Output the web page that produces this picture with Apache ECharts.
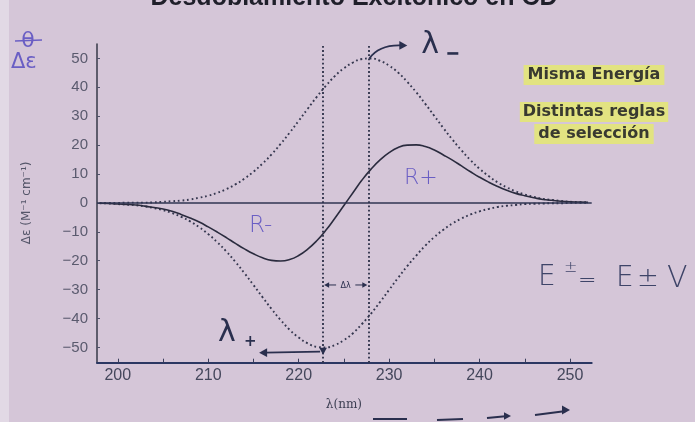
<!DOCTYPE html>
<html>
<head>
<meta charset="utf-8">
<script src="https://cdn.jsdelivr.net/npm/echarts@6/dist/echarts.min.js"></script>
<style>
  html, body { margin: 0; padding: 0; background: #d5c6d8; }
  #chart { width: 695px; height: 422px; }
</style>
</head>
<body>
<div id="chart"></div>
<script>
// Wavelength grid (nm)
const wavelengths = [198,199,200,201,202,203,204,205,206,207,208,209,210,211,212,213,214,215,216,217,218,219,220,221,222,223,224,225,226,227,228,229,230,231,232,233,234,235,236,237,238,239,240,241,242,243,244,245,246,247,248,249,250,251,252];

// Absorption-like band of the λ- exciton component (dotted, positive)
const bandLambdaMinus = [0,0,0,0.1,0.1,0.1,0.2,0.4,0.6,0.8,1.2,1.8,2.5,3.5,4.8,6.4,8.4,10.8,13.6,16.8,20.4,24.3,28.4,32.6,36.7,40.5,43.9,46.6,48.6,49.8,50.0,49.2,47.5,45.1,41.9,38.3,34.3,30.1,25.9,21.9,18.2,14.8,11.8,9.3,7.1,5.4,4.0,2.9,2.1,1.4,1.0,0.7,0.4,0.3,0.2];

// Band of the λ+ exciton component (dotted, negative)
const bandLambdaPlus = [-0.1,-0.2,-0.4,-0.6,-0.8,-1.2,-1.8,-2.5,-3.5,-4.8,-6.4,-8.4,-10.8,-13.6,-16.8,-20.4,-24.3,-28.4,-32.6,-36.7,-40.5,-43.9,-46.6,-48.6,-49.8,-50.0,-49.2,-47.5,-45.1,-41.9,-38.3,-34.3,-30.1,-25.9,-21.9,-18.2,-14.8,-11.8,-9.3,-7.1,-5.4,-4.0,-2.9,-2.1,-1.4,-1.0,-0.7,-0.4,-0.3,-0.2,-0.1,-0.1,0,0,0];

// Observed CD couplet (solid): R- branch then R+ branch
const cdCouplet = [-0.1,-0.2,-0.4,-0.5,-0.7,-1.1,-1.6,-2.1,-2.9,-4.0,-5.2,-6.6,-8.3,-10.1,-12.0,-14.0,-15.9,-17.6,-19.0,-19.9,-20.1,-19.6,-18.2,-16.0,-13.1,-9.5,-5.3,-0.9,3.5,7.9,11.7,14.9,17.4,19.2,20.0,20.1,19.5,18.3,16.6,14.8,12.8,10.8,8.9,7.2,5.7,4.4,3.3,2.5,1.8,1.2,0.9,0.6,0.4,0.3,0.2];

// Band positions of the two exciton components (nm)
const lambdaPlus = 222.7;
const lambdaMinus = 227.7;

// Axis ranges and tick labels
const xRange = [197.7, 252.4];
const yRange = [-55.3, 55];
const xTickLabels = [200, 210, 220, 230, 240, 250];
const yTickLabels = [-50, -40, -30, -20, -10, 0, 10, 20, 30, 40, 50];

const pairs = ys => wavelengths.map((x, i) => [x, ys[i]]);

const INK = '#2a2f4e';
const DOT = '#35374f';
const PEN = '#6a5ec4';

const chart = echarts.init(document.getElementById('chart'), null, { renderer: 'canvas' });

// plot frame: x 97..591.7 px, y 44..362.7 px
const frame = { left: 97, top: 44, width: 494.7, height: 318.7 };
const pxPerNm = frame.width / (xRange[1] - xRange[0]);
const pxPerUnit = frame.height / (yRange[1] - yRange[0]);
// tick/label grid covering the labelled range only, on the same scale
const tickGrid = {
  left: frame.left + (xTickLabels[0] - xRange[0]) * pxPerNm,
  top: frame.top + (yRange[1] - yTickLabels[yTickLabels.length - 1]) * pxPerUnit,
  width: (xTickLabels[xTickLabels.length - 1] - xTickLabels[0]) * pxPerNm,
  height: (yTickLabels[yTickLabels.length - 1] - yTickLabels[0]) * pxPerUnit
};
const xOffset = (frame.top + frame.height) - (tickGrid.top + tickGrid.height);
const yOffset = tickGrid.left - frame.left;

chart.setOption({
  animation: false,
  backgroundColor: '#d5c6d8',
  grid: [
    { left: frame.left, top: frame.top, width: frame.width, height: frame.height },
    { left: tickGrid.left, top: tickGrid.top, width: tickGrid.width, height: tickGrid.height }
  ],
  xAxis: [
    {
      gridIndex: 0, type: 'value', min: xRange[0], max: xRange[1],
      axisLine: { show: true, onZero: false, lineStyle: { color: '#2b3762', width: 2 } },
      axisTick: { show: false }, axisLabel: { show: false }, splitLine: { show: false }
    },
    {
      gridIndex: 1, type: 'value', min: xTickLabels[0], max: xTickLabels[xTickLabels.length - 1],
      interval: 5, offset: xOffset,
      axisLine: { show: false, onZero: false },
      axisTick: { show: true, inside: true, length: 4, lineStyle: { color: '#3a3f5c', width: 1 } },
      axisLabel: {
        margin: 5, fontSize: 16, fontFamily: 'Liberation Sans', color: '#45475c',
        formatter: v => xTickLabels.includes(v) ? String(v) : ''
      },
      splitLine: { show: false },
      name: 'λ(nm)', nameLocation: 'middle', nameGap: 36,
      nameTextStyle: { fontSize: 12, fontFamily: 'DejaVu Serif', color: '#3c3e52' }
    }
  ],
  yAxis: [
    {
      gridIndex: 0, type: 'value', min: yRange[0], max: yRange[1],
      axisLine: { show: true, onZero: false, lineStyle: { color: '#363848', width: 1.5 } },
      axisTick: { show: false }, axisLabel: { show: false }, splitLine: { show: false }
    },
    {
      gridIndex: 1, type: 'value', min: yTickLabels[0], max: yTickLabels[yTickLabels.length - 1],
      interval: 10, offset: yOffset,
      axisLine: { show: false, onZero: false },
      axisTick: { show: true, inside: true, length: 3, lineStyle: { color: '#50526a' } },
      axisLabel: {
        margin: 9, fontSize: 15, fontFamily: 'Liberation Sans', color: '#5a5a6e',
        formatter: v => String(v).replace('-', '\u2212')
      },
      splitLine: { show: false },
      name: 'Δε (M⁻¹ cm⁻¹)', nameLocation: 'middle', nameGap: 64, nameRotate: 90,
      nameTextStyle: { fontSize: 12, fontFamily: 'DejaVu Sans', color: '#55566a' }
    }
  ],
  series: [
    {
      name: 'λ- band', type: 'line', xAxisIndex: 0, yAxisIndex: 0,
      data: pairs(bandLambdaMinus), smooth: true, symbol: 'none',
      lineStyle: { color: DOT, width: 1.9, type: [1.8, 2.8] },
      markLine: {
        silent: true, symbol: 'none', label: { show: false },
        lineStyle: { color: DOT, width: 1.9, type: [1.8, 2.4] },
        data: [{ xAxis: lambdaPlus }, { xAxis: lambdaMinus }]
      }
    },
    {
      name: 'λ+ band', type: 'line', xAxisIndex: 0, yAxisIndex: 0,
      data: pairs(bandLambdaPlus), smooth: true, symbol: 'none',
      lineStyle: { color: DOT, width: 1.9, type: [1.8, 2.8] }
    },
    {
      name: 'CD', type: 'line', xAxisIndex: 0, yAxisIndex: 0,
      data: pairs(cdCouplet), smooth: true, symbol: 'none',
      lineStyle: { color: '#2a2b3e', width: 1.6 },
      markLine: {
        silent: true, symbol: 'none', label: { show: false },
        lineStyle: { color: '#2f3552', width: 1.6, type: 'solid' },
        data: [{ yAxis: 0 }]
      }
    }
  ]
});

// Annotations anchored to the band positions
const toPx = (x, y) => chart.convertToPixel({ gridIndex: 0 }, [x, y]);
const peak = toPx(lambdaMinus, Math.max(...bandLambdaMinus));
const trough = toPx(lambdaPlus, -51.5);
const gapL = toPx(lambdaPlus, -28.4);
const gapR = toPx(lambdaMinus, -28.4);

function head(tip, dir, size, color) {
  // small filled arrow head; dir: 'l','r','d'
  const s = size, h = size * 0.55;
  let pts;
  if (dir === 'r') pts = [[tip[0], tip[1]], [tip[0] - s, tip[1] - h], [tip[0] - s, tip[1] + h]];
  else if (dir === 'l') pts = [[tip[0], tip[1]], [tip[0] + s, tip[1] - h], [tip[0] + s, tip[1] + h]];
  else pts = [[tip[0], tip[1]], [tip[0] - h, tip[1] - s], [tip[0] + h, tip[1] - s]];
  return { type: 'polygon', z: 50, shape: { points: pts }, style: { fill: color } };
}

const arrowEnd = [peak[0] + 39, peak[1] - 13];
const plusEnd = [trough[0] - 64, trough[1] + 1];
const EQ = '#3e4468';

chart.setOption({
  graphic: [
    { type: 'rect', z: 1, silent: true, shape: { x: 0, y: 0, width: 9, height: 422 }, style: { fill: 'rgba(236,234,240,0.55)' } },
    // cut-off heading
    { type: 'text', z: 50, x: 354, y: 11, style: { text: 'Desdoblamiento Excitónico en CD', fontSize: 25, fontWeight: 'bold', fontFamily: 'Liberation Sans', fill: '#1f1f2a', align: 'center', verticalAlign: 'bottom' } },
    // handwritten symbols top left
    { type: 'text', z: 50, x: 28, y: 41, style: { text: 'θ', fontSize: 22, fontFamily: 'DejaVu Sans', fill: PEN, align: 'center', verticalAlign: 'middle' } },
    { type: 'line', z: 50, shape: { x1: 15, y1: 41, x2: 42, y2: 40 }, style: { stroke: PEN, lineWidth: 1.5 } },
    { type: 'text', z: 50, x: 11, y: 63, style: { text: 'Δε', fontSize: 21, fontFamily: 'DejaVu Sans', fill: PEN, align: 'left', verticalAlign: 'middle' } },
    // λ- : curved arrow from the band maximum
    { type: 'bezierCurve', z: 50, shape: { x1: peak[0] + 1, y1: peak[1], cpx1: peak[0] + 8, cpy1: peak[1] - 10, cpx2: peak[0] + 20, cpy2: peak[1] - 14, x2: arrowEnd[0] - 4, y2: arrowEnd[1] }, style: { stroke: INK, lineWidth: 1.7, fill: null } },
    head(arrowEnd, 'r', 8, INK),
    { type: 'text', z: 50, x: arrowEnd[0] + 14, y: arrowEnd[1], style: { text: 'λ', fontSize: 30, fontFamily: 'DejaVu Sans', fontWeight: 'normal', fill: INK, align: 'left', verticalAlign: 'middle' } },
    { type: 'line', z: 50, shape: { x1: arrowEnd[0] + 40, y1: arrowEnd[1] + 8, x2: arrowEnd[0] + 51, y2: arrowEnd[1] + 8 }, style: { stroke: INK, lineWidth: 2.6 } },
    // λ+ : arrow from the band minimum
    head([trough[0], trough[1] + 3], 'd', 7, INK),
    { type: 'line', z: 50, shape: { x1: trough[0] - 3, y1: trough[1], x2: plusEnd[0] + 6, y2: plusEnd[1] }, style: { stroke: INK, lineWidth: 1.7 } },
    head(plusEnd, 'l', 8, INK),
    { type: 'text', z: 50, x: 218, y: 333, style: { text: 'λ', fontSize: 30, fontFamily: 'DejaVu Sans', fontWeight: 'normal', fill: INK, align: 'left', verticalAlign: 'middle' } },
    { type: 'text', z: 50, x: 244, y: 342, style: { text: '+', fontSize: 15, fontFamily: 'DejaVu Sans', fontWeight: 'bold', fill: INK, align: 'left', verticalAlign: 'middle' } },
    // Δλ between the two band positions
    { type: 'line', z: 50, shape: { x1: gapL[0] + 4, y1: gapL[1], x2: gapL[0] + 13, y2: gapL[1] }, style: { stroke: INK, lineWidth: 1 } },
    head([gapL[0] + 1, gapL[1]], 'l', 5, INK),
    { type: 'text', z: 50, x: (gapL[0] + gapR[0]) / 2, y: gapL[1] + 1, style: { text: 'Δλ', fontSize: 8, fontFamily: 'DejaVu Sans', fill: INK, align: 'center', verticalAlign: 'middle' } },
    { type: 'line', z: 50, shape: { x1: gapR[0] - 13, y1: gapR[1], x2: gapR[0] - 4, y2: gapR[1] }, style: { stroke: INK, lineWidth: 1 } },
    head([gapR[0] - 1, gapR[1]], 'r', 5, INK),
    // branch labels
    { type: 'text', z: 50, x: 249, y: 226, style: { text: 'R-', fontSize: 23, fontFamily: 'DejaVu Sans', fontWeight: 200, fill: PEN, align: 'left', verticalAlign: 'middle' } },
    { type: 'text', z: 50, x: 404, y: 178, style: { text: 'R+', fontSize: 22, fontFamily: 'DejaVu Sans', fontWeight: 200, fill: PEN, align: 'left', verticalAlign: 'middle' } },
    // highlighted notes
    { type: 'text', z: 50, x: 594, y: 75, style: { text: 'Misma Energía', fontSize: 16, fontWeight: 'bold', fontFamily: 'DejaVu Sans', fill: '#393a30', align: 'center', verticalAlign: 'middle', backgroundColor: 'rgba(232,238,96,0.72)', padding: [2, 4, 2, 4] } },
    { type: 'text', z: 50, x: 594, y: 112, style: { text: 'Distintas reglas', fontSize: 16, fontWeight: 'bold', fontFamily: 'DejaVu Sans', fill: '#393a30', align: 'center', verticalAlign: 'middle', backgroundColor: 'rgba(232,238,96,0.72)', padding: [2, 3, 2, 3] } },
    { type: 'text', z: 50, x: 594, y: 134, style: { text: 'de selección', fontSize: 16, fontWeight: 'bold', fontFamily: 'DejaVu Sans', fill: '#393a30', align: 'center', verticalAlign: 'middle', backgroundColor: 'rgba(232,238,96,0.72)', padding: [2, 4, 2, 4] } },
    // E± = E ± V
    { type: 'text', z: 50, x: 538, y: 278, style: { text: 'E', fontSize: 28, fontFamily: 'DejaVu Sans', fontWeight: 200, fill: EQ, align: 'left', verticalAlign: 'middle' } },
    { type: 'text', z: 50, x: 564, y: 268, style: { text: '±', fontSize: 16, fontFamily: 'DejaVu Sans', fontWeight: 200, fill: EQ, align: 'left', verticalAlign: 'middle' } },
    { type: 'text', z: 50, x: 578, y: 281, style: { text: '=', fontSize: 22, fontFamily: 'DejaVu Sans', fontWeight: 200, fill: EQ, align: 'left', verticalAlign: 'middle' } },
    { type: 'text', z: 50, x: 616, y: 279, style: { text: 'E', fontSize: 28, fontFamily: 'DejaVu Sans', fontWeight: 200, fill: EQ, align: 'left', verticalAlign: 'middle' } },
    { type: 'text', z: 50, x: 637, y: 279, style: { text: '±', fontSize: 26, fontFamily: 'DejaVu Sans', fontWeight: 200, fill: EQ, align: 'left', verticalAlign: 'middle' } },
    { type: 'text', z: 50, x: 667, y: 279, style: { text: 'V', fontSize: 30, fontFamily: 'DejaVu Sans', fontWeight: 200, fill: EQ, align: 'left', verticalAlign: 'middle' } },
    // vector arrows at the lower edge
    { type: 'line', z: 50, shape: { x1: 373, y1: 419, x2: 407, y2: 419 }, style: { stroke: INK, lineWidth: 2.2 } },
    { type: 'line', z: 50, shape: { x1: 437, y1: 420, x2: 463, y2: 419 }, style: { stroke: INK, lineWidth: 2.2 } },
    { type: 'line', z: 50, shape: { x1: 487, y1: 418, x2: 508, y2: 416 }, style: { stroke: INK, lineWidth: 2 } },
    head([511, 416], 'r', 7, INK),
    { type: 'line', z: 50, shape: { x1: 535, y1: 415, x2: 566, y2: 411 }, style: { stroke: INK, lineWidth: 2 } },
    head([570, 410], 'r', 8, INK)
  ]
});
</script>
</body>
</html>
